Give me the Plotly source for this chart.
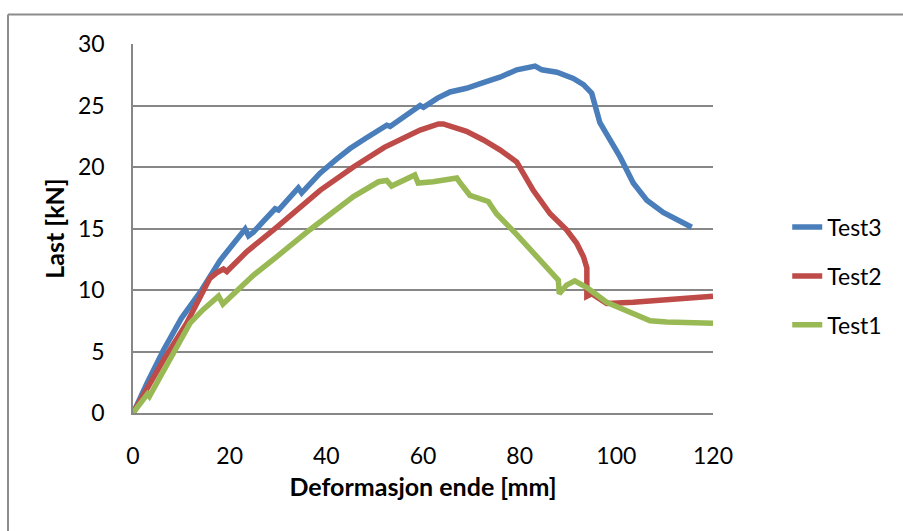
import plotly.graph_objects as go

# ---- data ----
test3_x = [0, 0.3, 3.0, 6.3, 10.0, 14.2, 18.0, 21.0, 23.2, 23.9, 24.9, 27.0, 29.4, 30.1, 32.0, 34.2, 34.9,
           38.7, 42.0, 44.9, 48.0, 52.5, 53.2, 56.0, 59.4, 60.1, 63.0, 65.6, 69.0, 72.0, 75.9, 79.4,
           81.0, 83.2, 84.6, 87.7, 91.1, 93.2, 94.9, 95.6, 96.6, 98.7, 100.8, 103.5, 106.3, 109.7,
           113.2, 115.6]
test3_y = [0, 0.2, 2.5, 5.1, 7.7, 10.0, 12.4, 13.8, 14.96, 14.4, 14.7, 15.6, 16.6, 16.5, 17.3, 18.3, 17.9,
           19.5, 20.6, 21.5, 22.3, 23.4, 23.3, 24.1, 25.0, 24.85, 25.6, 26.1, 26.4, 26.8, 27.3, 27.9,
           28.0, 28.2, 27.9, 27.7, 27.2, 26.7, 26.0, 24.9, 23.6, 22.2, 20.8, 18.7, 17.3, 16.3,
           15.6, 15.1]

test2_x = [0, 3.0, 6.3, 11.1, 15.9, 17.3, 18.7, 19.4, 23.5, 29.7, 38.7, 45.6, 52.0, 59.4, 63.2, 64.2,
           69.0, 72.5, 75.9, 79.4, 80.8, 82.8, 86.3, 89.7, 91.8, 93.2, 93.9, 93.9, 94.9, 98.0,
           103.5, 110.4, 120.0]
test2_y = [0, 2.1, 4.3, 7.3, 10.95, 11.4, 11.7, 11.5, 13.1, 15.1, 18.1, 20.0, 21.6, 23.0, 23.5, 23.5,
           22.9, 22.2, 21.4, 20.4, 19.5, 18.1, 16.2, 14.9, 13.8, 12.7, 11.8, 9.5, 9.7, 8.9,
           9.0, 9.2, 9.5]

test1_x = [0, 3.0, 3.4, 7.65, 11.8, 14.5, 17.7, 18.6, 21.4, 24.9, 29.7, 36.6, 45.6, 50.8, 52.5, 53.5,
           58.3, 59.0, 62.1, 67.0, 67.7, 69.7, 73.5, 75.2, 79.4, 83.5, 84.9, 88.0, 88.2, 89.7,
           91.4, 93.9, 98.0, 102.8, 107.0, 110.4, 117.4, 120.0]
test1_y = [0, 1.55, 1.35, 4.3, 7.3, 8.4, 9.5, 8.86, 9.86, 11.2, 12.7, 14.9, 17.6, 18.8, 18.9, 18.45,
           19.35, 18.7, 18.8, 19.1, 18.7, 17.7, 17.2, 16.2, 14.5, 12.7, 12.0, 10.8, 9.7, 10.4,
           10.75, 10.2, 9.0, 8.2, 7.5, 7.4, 7.4, 7.3]

series_names = ["Test3", "Test2", "Test1"]
colors = ["#4A7EBB", "#BE4B48", "#98B954"]

x_ticks = [0, 20, 40, 60, 80, 100, 120]
y_ticks = [0, 5, 10, 15, 20, 25, 30]

FONT = "Lato"
GRID = "#878787"

fig = go.Figure()
for name, xs, ys, c in zip(series_names, [test3_x, test2_x, test1_x],
                           [test3_y, test2_y, test1_y], colors):
    fig.add_trace(go.Scatter(x=xs, y=ys, mode="lines", name=name, legendgroup=name,
                             line=dict(color=c, width=5.5)))

fig.update_layout(
    width=903, height=531,
    margin=dict(l=133, r=190, t=44, b=118),
    paper_bgcolor="white", plot_bgcolor="white",
    font=dict(family=FONT, size=23, color="#000000"),
    showlegend=True,
    legend=dict(x=1.128, xanchor="left", y=0.371, yanchor="middle",
                font=dict(family=FONT, size=23, color="#000000"),
                tracegroupgap=16, itemwidth=30, bgcolor="rgba(0,0,0,0)"),
    xaxis=dict(range=[0, 120], tickvals=x_ticks, ticktext=[str(v) for v in x_ticks],
               showgrid=False, zeroline=False, showline=True, linecolor=GRID, linewidth=1.5,
               ticks="", ticklabelstandoff=22,
               tickfont=dict(family=FONT, size=23, color="#000000"),
               title=dict(text="<b>Deformasjon ende [mm]</b>", standoff=10,
                          font=dict(family=FONT, size=25, color="#000000"))),
    yaxis=dict(range=[0, 30], tickvals=y_ticks, ticktext=[str(v) for v in y_ticks],
               showgrid=True, gridcolor=GRID, gridwidth=1.5, zeroline=False,
               showline=True, linecolor=GRID, linewidth=1.5,
               ticks="", ticklabelstandoff=22,
               tickfont=dict(family=FONT, size=23, color="#000000"),
               title=dict(text="<b>Last [kN]</b>", standoff=6,
                          font=dict(family=FONT, size=25, color="#000000"))),
)

# outer chart-area border (top and left edges visible in the reference)
border_left = (8 - 133) / 580
border_top = (413 - 14.5) / 369
fig.add_shape(type="line", xref="paper", yref="paper", x0=border_left, x1=1.4,
              y0=border_top, y1=border_top, line=dict(color="#8C8C8C", width=2))
fig.add_shape(type="line", xref="paper", yref="paper", x0=border_left, x1=border_left,
              y0=border_top, y1=-0.4, line=dict(color="#8C8C8C", width=2))

fig.write_html("out.html")
